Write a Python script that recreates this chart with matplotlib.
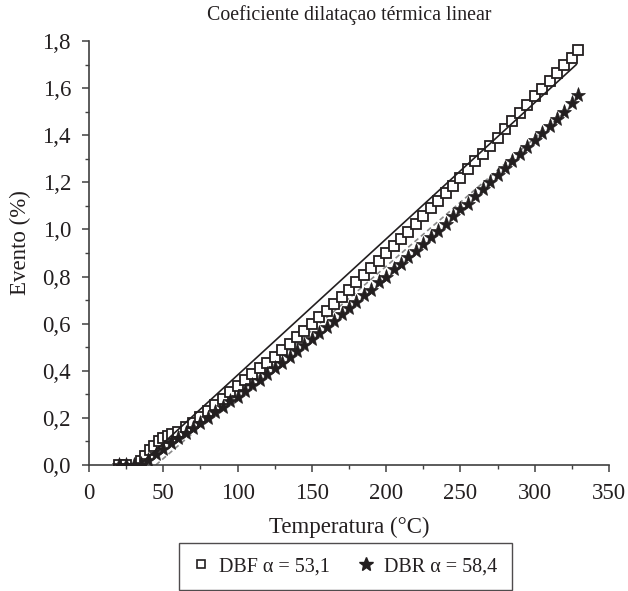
import numpy as np
import matplotlib
matplotlib.use("Agg")
import matplotlib.pyplot as plt
from matplotlib.ticker import MultipleLocator, FuncFormatter
from matplotlib.lines import Line2D

# -------------------------------------------------
# Data
# -------------------------------------------------

dbf_temp = [20, 25, 35, 38, 41, 44, 47, 50, 53, 56, 60, 65, 70, 75, 80, 85,
            90, 95, 100, 105, 110, 115, 120, 125, 130, 135, 140, 145, 150,
            155, 160, 165, 170, 175, 180, 185, 190, 195, 200, 205, 210, 215,
            220, 225, 230, 235, 240, 245, 250, 255, 260, 265, 270, 275, 280,
            285, 290, 295, 300, 305, 310, 315, 320, 325, 329]
dbf_val = [0.0, 0.0, 0.015, 0.04, 0.062, 0.082, 0.1, 0.115, 0.125, 0.132,
           0.142, 0.16, 0.18, 0.205, 0.23, 0.255, 0.28, 0.31, 0.335, 0.36,
           0.385, 0.41, 0.435, 0.46, 0.49, 0.515, 0.545, 0.57, 0.6, 0.63,
           0.655, 0.685, 0.715, 0.745, 0.775, 0.805, 0.835, 0.865, 0.9, 0.93,
           0.96, 0.99, 1.025, 1.055, 1.09, 1.12, 1.155, 1.185, 1.22, 1.255,
           1.29, 1.32, 1.355, 1.39, 1.425, 1.46, 1.495, 1.53, 1.565, 1.595,
           1.63, 1.665, 1.7, 1.73, 1.76]

dbr_temp = [20, 25, 30, 35, 40, 45, 50, 55, 60, 65, 70, 75, 80, 85, 90, 95,
            100, 105, 110, 115, 120, 125, 130, 135, 140, 145, 150, 155, 160,
            165, 170, 175, 180, 185, 190, 195, 200, 205, 210, 215, 220, 225,
            230, 235, 240, 245, 250, 255, 260, 265, 270, 275, 280, 285, 290,
            295, 300, 305, 310, 315, 320, 325, 329]
dbr_val = [0.0, 0.0, 0.0, 0.005, 0.02, 0.045, 0.07, 0.095, 0.115, 0.135,
           0.155, 0.18, 0.2, 0.225, 0.245, 0.27, 0.29, 0.315, 0.34, 0.36,
           0.385, 0.41, 0.435, 0.46, 0.485, 0.51, 0.535, 0.56, 0.585, 0.61,
           0.64, 0.665, 0.69, 0.72, 0.745, 0.775, 0.8, 0.83, 0.855, 0.885,
           0.91, 0.94, 0.97, 0.995, 1.025, 1.055, 1.085, 1.11, 1.14, 1.17,
           1.2, 1.23, 1.26, 1.29, 1.32, 1.35, 1.38, 1.41, 1.44, 1.47, 1.5,
           1.535, 1.57]

# linear fits (end points)
dbf_fit_temp = [34, 328]
dbf_fit_val = [0.0, 1.70]
dbr_fit_temp = [45, 328]
dbr_fit_val = [0.0, 1.54]

labels = ["DBF \u03b1 = 53,1", "DBR \u03b1 = 58,4"]

# -------------------------------------------------
# Plot
# -------------------------------------------------

ink = "#231f20"
plt.rcParams["font.family"] = ["Liberation Serif", "DejaVu Serif"]
plt.rcParams["text.color"] = ink

fig = plt.figure(figsize=(6.28, 5.91), dpi=100)
ax = fig.add_axes([0.1417, 0.2132, 0.828, 0.7174])

ax.plot(dbf_temp, dbf_val, linestyle="none", marker="s", markersize=7.5,
        markerfacecolor="white", markeredgecolor=ink, markeredgewidth=1.3,
        zorder=3)
ax.plot(dbf_fit_temp, dbf_fit_val, color=ink, linewidth=1.2, zorder=4)

ax.plot(dbr_fit_temp, dbr_fit_val, color="#8a8a8a", linewidth=1.2,
        linestyle=(0, (3, 2)), zorder=2)
ax.plot(dbr_temp, dbr_val, linestyle="none", marker="*", markersize=11,
        markerfacecolor=ink, markeredgecolor=ink, markeredgewidth=0.5,
        zorder=3)

ax.set_xlim(0, 350)
ax.set_ylim(0, 1.8)
ax.xaxis.set_major_locator(MultipleLocator(50))
ax.xaxis.set_minor_locator(MultipleLocator(25))
ax.yaxis.set_major_locator(MultipleLocator(0.2))
ax.yaxis.set_minor_locator(MultipleLocator(0.1))
ax.yaxis.set_major_formatter(
    FuncFormatter(lambda v, p: f"{v:.1f}".replace(".", ",")))

for side in ["top", "right"]:
    ax.spines[side].set_visible(False)
for side in ["left", "bottom"]:
    ax.spines[side].set_color("#404040")
    ax.spines[side].set_linewidth(1.2)

ax.tick_params(which="major", direction="out", length=5, width=1.1,
               color="#404040", labelsize=16.5, labelcolor=ink, pad=8)
ax.tick_params(which="minor", direction="out", length=3, width=1.0,
               color="#404040")

ax.set_title("Coeficiente dilata\u00e7ao t\u00e9rmica linear", fontsize=14.3,
             color=ink, pad=15)
ax.set_xlabel("Temperatura (\u00b0C)", fontsize=16.5, color=ink, labelpad=9)
ax.set_ylabel("Evento (%)", fontsize=16.5, color=ink)
ax.yaxis.set_label_coords(-0.112, 0.524)

handles = [
    Line2D([], [], linestyle="none", marker="s", markersize=6,
           markerfacecolor="white", markeredgecolor=ink, markeredgewidth=1.2),
    Line2D([], [], linestyle="none", marker="*", markersize=10,
           markerfacecolor=ink, markeredgecolor=ink),
]
leg = fig.legend(handles, labels, loc="upper center",
                 bbox_to_anchor=(0.550, 0.0812), ncol=2, fontsize=14.5,
                 frameon=True, fancybox=False, handlelength=0.8,
                 handletextpad=0.5, columnspacing=1.4, borderpad=0.7,
                 borderaxespad=0)
leg.get_frame().set_edgecolor(ink)
leg.get_frame().set_linewidth(1.0)

plt.savefig("out.png", dpi=100)
